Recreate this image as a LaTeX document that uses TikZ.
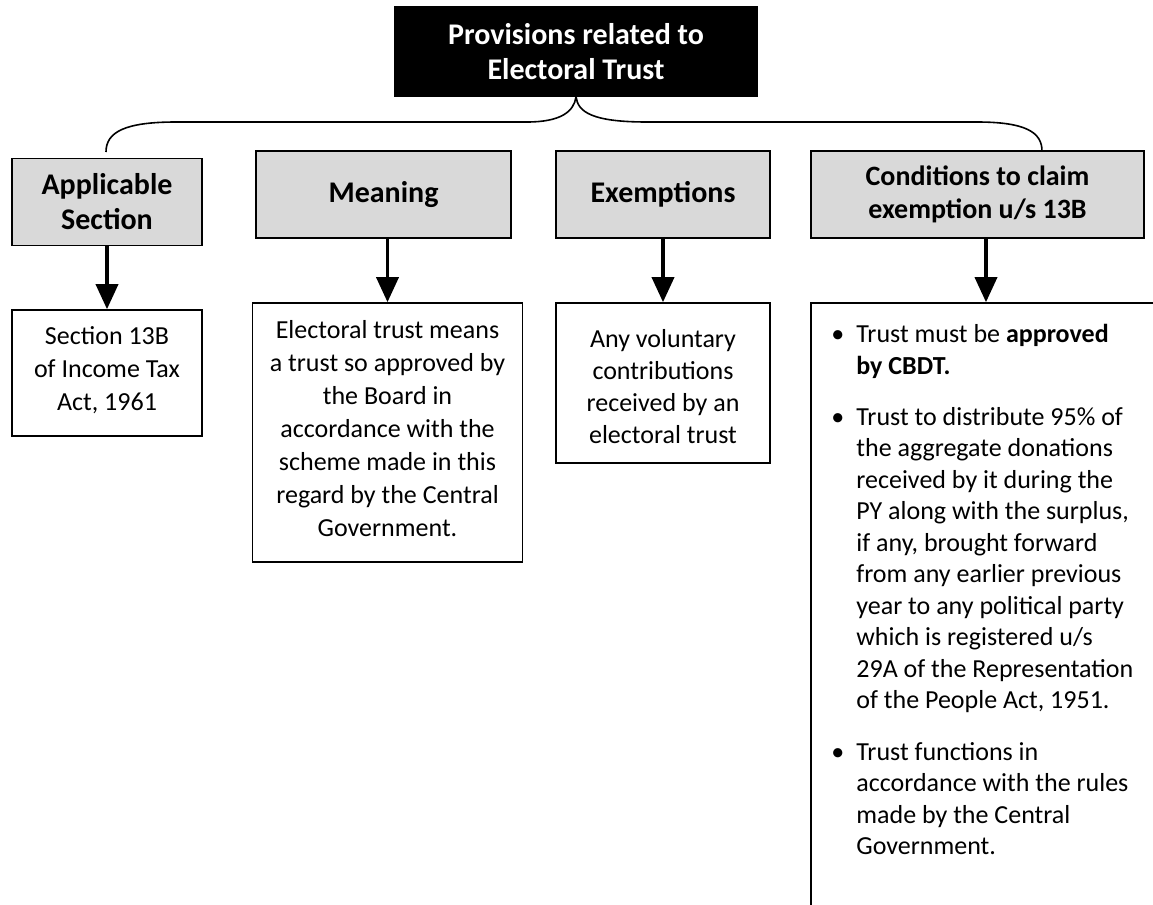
\documentclass[tikz,border=0pt]{standalone}
\usepackage{fontspec}
\setmainfont{Carlito}
\usetikzlibrary{arrows.meta,calc}
\definecolor{boxgray}{RGB}{217,217,217}
\tikzset{
  hdrbox/.style={draw=black,fill=black,line width=0.8pt,inner sep=0pt,align=center,text=white,
    font=\fontsize{15}{17.5}\selectfont\bfseries,minimum width=181pt,minimum height=44.5pt},
  graybox/.style={draw=black,fill=boxgray,line width=0.7pt,inner sep=0pt,align=center,
    font=\fontsize{15}{17.5}\selectfont\bfseries,minimum height=43.5pt},
  whitebox/.style={draw=black,fill=white,line width=0.8pt,inner sep=0pt},
  bodytext/.style={inner sep=0pt,align=center,font=\fontsize{13}{16.5}\selectfont},
  listtext/.style={inner sep=0pt,align=left,anchor=north west,font=\fontsize{13}{15.75}\selectfont},
  arr/.style={line width=1.8pt,-{Triangle[width=11pt,length=12.5pt]}},
  brace/.style={line width=0.8pt}
}
\newcommand{\itembul}{\llap{\textbullet\hspace{6pt}}}
\begin{document}
\begin{tikzpicture}[x=0.5pt,y=-0.5pt]
\useasboundingbox (0,0) rectangle (1153,905);
\clip (0,0) rectangle (1153,905);

\node[hdrbox] (hdr) at (576,51.5) {Provisions related to\\Electoral Trust};

\node[graybox,minimum width=95pt] (g1) at (107,202) {Applicable\\Section};
\node[graybox,minimum width=127.5pt] (g2) at (383.5,194.5) {Meaning};
\node[graybox,minimum width=107pt] (g3) at (663,194.5) {Exemptions};
\node[graybox,minimum width=166.5pt,font=\fontsize{14}{16.5}\selectfont\bfseries] (g4) at (977.5,194.5) {Conditions to claim\\exemption u/s 13B};

\node[whitebox,minimum width=95pt,minimum height=63pt] (w1) at (107,373) {};
\node[bodytext] (t1) at (107,370.5) {Section 13B\\of Income Tax\\Act, 1961};
\node[whitebox,minimum width=135pt,minimum height=129.5pt] (w2) at (387.5,432.5) {};
\node[bodytext] (t2) at (387.5,429) {Electoral trust means\\a trust so approved by\\the Board in\\accordance with the\\scheme made in this\\regard by the Central\\Government.};
\node[whitebox,minimum width=107pt,minimum height=80pt] (w3) at (663,383) {};
\node[bodytext,font=\fontsize{13}{16}\selectfont] (t3) at (663,387) {Any voluntary\\contributions\\received by an\\electoral trust};
\node[whitebox,minimum width=177pt,minimum height=308.5pt] (w4) at (988,611.5) {};

\node[listtext] (l1) at (856,324) {\itembul Trust must be \textbf{approved}\\\textbf{by CBDT.}};
\node[listtext] (l2) at (856,407) {\itembul Trust to distribute 95\% of\\the aggregate donations\\received by it during the\\PY along with the surplus,\\if any, brought forward\\from any earlier previous\\year to any political party\\which is registered u/s\\29A of the Representation\\of the People Act, 1951.};
\node[listtext] (l3) at (856,742) {\itembul Trust functions in\\accordance with the rules\\made by the Central\\Government.};

\coordinate (bl) at (106,152);
\coordinate (br) at (1042,151);
\draw[brace] (hdr.south) .. controls (574,112) and (560,122) .. (527,122) -- (176,122) .. controls (125,122) and (106,132) .. (bl);
\draw[brace] (hdr.south) .. controls (578,112) and (592,122) .. (647,122) -- (977,122) .. controls (1025,122) and (1042,132) .. (br);

\draw[arr] (g1.south) -- (g1.south |- w1.north);
\draw[arr] (g2.south -| w2.north) -- (w2.north);
\draw[arr] (g3.south) -- (g3.south |- w3.north);
\draw[arr] ([xshift=4.25pt]g4.south) -- ([xshift=4.25pt]g4.south |- w4.north);
\end{tikzpicture}
\end{document}
